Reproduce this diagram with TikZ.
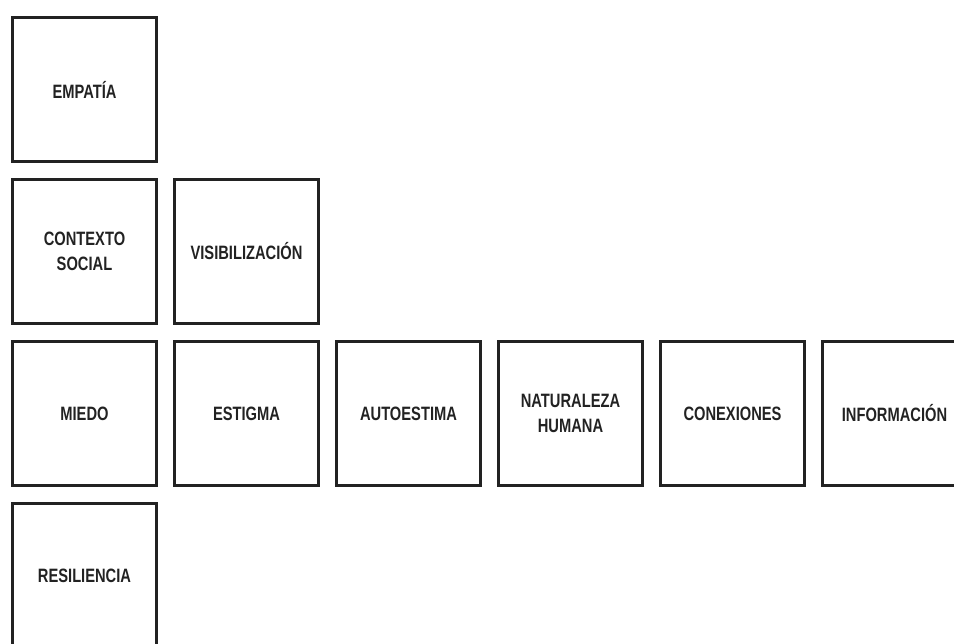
\documentclass[tikz,border=0pt]{standalone}
\usepackage{fontspec}
\newfontfamily\cajafont{Liberation Sans}[FakeStretch=0.76]
\definecolor{tinta}{HTML}{222222}
\begin{document}
\begin{tikzpicture}[x=121.5pt, y=121.5pt,
	caja/.style={shape=rectangle, line width=2.2pt, draw=tinta, text=tinta, minimum size=108pt, align=center, font=\cajafont\bfseries\fontsize{14.5}{18.8}\selectfont}]
	\useasboundingbox (-0.5216,0.5525) rectangle (5.3673,-3.4167);
	\node (empatia) at (0,0) [caja] {EMPATÍA};
	\node (contexto) at (0,-1) [caja] {CONTEXTO\\SOCIAL};
	\node (visibilizacion) at (1,-1) [caja] {VISIBILIZACIÓN};
	\node (miedo) at (0,-2) [caja] {MIEDO};
	\node (estigma) at (1,-2) [caja] {ESTIGMA};
	\node (autoestima) at (2,-2) [caja] {AUTOESTIMA};
	\node (naturaleza) at (3,-2) [caja] {NATURALEZA\\HUMANA};
	\node (conexiones) at (4,-2) [caja] {CONEXIONES};
	\node (informacion) at (5,-2) [caja] {INFORMACIÓN};
	\node (resiliencia) at (0,-3) [caja] {RESILIENCIA};
\end{tikzpicture}
\end{document}
